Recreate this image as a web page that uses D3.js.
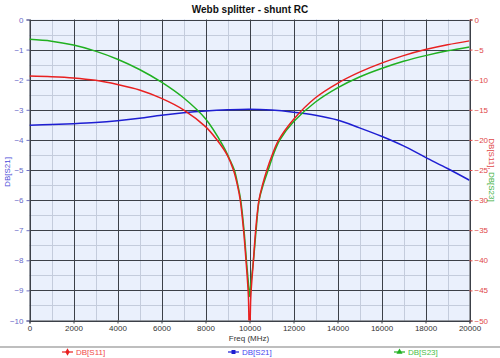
<!DOCTYPE html>
<html><head><meta charset="utf-8">
<script src="https://cdn.jsdelivr.net/npm/d3@7"></script>
<style>body{margin:0;background:#fff}svg{display:block;font-family:"Liberation Sans",Arial,sans-serif}</style>
</head><body><svg id="c" width="500" height="358"></svg>
<script>
const title = "Webb splitter - shunt RC";
const xTicks = [0,2000,4000,6000,8000,10000,12000,14000,16000,18000,20000];
const leftTicks = [0,-1,-2,-3,-4,-5,-6,-7,-8,-9,-10];
const rightTicks = [0,-5,-10,-15,-20,-25,-30,-35,-40,-45,-50];

const s11Freq = [0,1000,2000,3000,4000,5000,6000,7000,8000,8500,9000,9270,9450,9580,9730,9840,9950,10000,10060,10180,10280,10430,10590,10790,11030,11330,12000,13000,14000,15000,16000,17000,18000,19000,20000];
const s11Db   = [-9.4,-9.5,-9.7,-10.1,-10.8,-11.7,-13.1,-15.0,-17.8,-19.9,-22.6,-25,-27.5,-30,-35,-40,-46,-56,-46,-40,-35,-30,-27.5,-25,-22.5,-20,-16.6,-13.0,-10.6,-8.75,-7.25,-6.0,-5.0,-4.2,-3.55];

const s21Freq = [0,1000,2000,3000,4000,5000,6000,7000,8000,9000,10000,11000,12000,13000,14000,15000,16000,17000,18000,19000,20000];
const s21Db   = [-3.51,-3.49,-3.46,-3.42,-3.36,-3.28,-3.18,-3.1,-3.04,-3.0,-2.98,-3.01,-3.08,-3.18,-3.34,-3.6,-3.88,-4.2,-4.58,-4.95,-5.34];

const s23Freq = [0,1000,2000,3000,4000,5000,6000,7000,8000,8800,9070,9310,9470,9600,9750,9860,9955,10000,10060,10180,10300,10440,10620,10850,11080,11380,12000,13000,14000,15000,16000,17000,18000,19000,20000];
const s23Db   = [-3.3,-3.6,-4.25,-5.25,-6.6,-8.3,-10.4,-13.0,-16.5,-21.0,-23,-25,-27.5,-30,-35,-40,-44,-46,-44,-40,-35,-30,-27.5,-25,-22.5,-20,-17.0,-13.7,-11.35,-9.55,-8.15,-6.95,-6.0,-5.2,-4.55];

const svg = d3.select("#c");
const L=29.5, R=469.5, T=19.5, B=320.5;
const x = d3.scaleLinear().domain([0,20000]).range([L,R]);
const yL = d3.scaleLinear().domain([-10,0]).range([B,T]);
const yR = d3.scaleLinear().domain([-50,0]).range([B,T]);

svg.append("rect").attr("x",L).attr("y",T).attr("width",R-L).attr("height",B-T).attr("fill","#eaf0fc");

const g = svg.append("g");
g.selectAll(".vmin").data(d3.range(1000,20000,2000)).enter().append("line")
 .attr("x1",d=>Math.round(x(d))+0.5).attr("x2",d=>Math.round(x(d))+0.5).attr("y1",T).attr("y2",B)
 .attr("stroke","#c4ccdc").attr("stroke-width",1);
g.selectAll(".hmin").data(d3.range(-0.5,-10,-1)).enter().append("line")
 .attr("y1",d=>Math.round(yL(d))+0.5).attr("y2",d=>Math.round(yL(d))+0.5).attr("x1",L).attr("x2",R)
 .attr("stroke","#c4ccdc").attr("stroke-width",1);
g.selectAll(".vmaj").data(xTicks).enter().append("line")
 .attr("x1",d=>Math.round(x(d))+0.5).attr("x2",d=>Math.round(x(d))+0.5).attr("y1",T).attr("y2",B)
 .attr("stroke","#3c4048").attr("stroke-width",1);
g.selectAll(".hmaj").data(leftTicks).enter().append("line")
 .attr("y1",d=>Math.round(yL(d))+0.5).attr("y2",d=>Math.round(yL(d))+0.5).attr("x1",L).attr("x2",R)
 .attr("stroke","#3c4048").attr("stroke-width",1);

const axL = svg.append("g").attr("transform",`translate(${L},0)`)
 .call(d3.axisLeft(yL).tickValues(leftTicks).tickSize(3).tickPadding(3).tickFormat(d3.format("d")));
axL.select(".domain").attr("stroke","#3c4048");
axL.selectAll("line").attr("stroke","#7070c8");
axL.selectAll("text").attr("fill","#6868c8").style("font-size","8px").style("font-family","Liberation Sans, Arial");

const axR = svg.append("g").attr("transform",`translate(${R},0)`)
 .call(d3.axisRight(yR).tickValues(rightTicks).tickSize(3).tickPadding(2).tickFormat(d3.format("d")));
axR.select(".domain").attr("stroke","#3c4048");
axR.selectAll("line").attr("stroke","#e04848");
axR.selectAll("text").attr("fill","#e04848").style("font-size","8px").style("font-family","Liberation Sans, Arial");

const axB = svg.append("g").attr("transform",`translate(0,${B})`)
 .call(d3.axisBottom(x).tickValues(xTicks).tickSize(3).tickPadding(2).tickFormat(d3.format("d")));
axB.select(".domain").attr("stroke","#3c4048");
axB.selectAll("line").attr("stroke","#3c4048");
axB.selectAll("text").attr("fill","#333").style("font-size","8px").style("font-family","Liberation Sans, Arial");

svg.append("clipPath").attr("id","pc").append("rect").attr("x",L).attr("y",T).attr("width",R-L).attr("height",B-T);
const lines = svg.append("g").attr("clip-path","url(#pc)");
const mk = (fr,vals,ys)=> d3.line().curve(d3.curveCatmullRom.alpha(0.5)).x((d,i)=>x(fr[i])).y(d=>ys(d))(vals);
lines.append("path").attr("d",mk(s21Freq,s21Db,yL)).attr("fill","none").attr("stroke","#1e1ed2").attr("stroke-width",1.5);
lines.append("path").attr("d",mk(s23Freq,s23Db,yR)).attr("fill","none").attr("stroke","#20b020").attr("stroke-width",1.5);
lines.append("path").attr("d",mk(s11Freq,s11Db,yR)).attr("fill","none").attr("stroke","#e82020").attr("stroke-width",1.5);

svg.append("text").attr("x",250).attr("y",12.5).attr("text-anchor","middle").attr("font-size","10px").attr("font-weight","bold").attr("fill","#111").text(title);
svg.append("text").attr("x",249).attr("y",341).attr("text-anchor","middle").attr("font-size","8px").attr("fill","#333").text("Freq (MHz)");
svg.append("text").attr("transform","translate(10,172) rotate(-90)").attr("text-anchor","middle").attr("font-size","8px").attr("fill","#4a4ad8").text("DB[S21]");
const rl = svg.append("text").attr("transform","translate(489,170) rotate(90)").attr("text-anchor","middle").attr("font-size","8px");
rl.append("tspan").attr("fill","#e04848").text("DB[S11], ");
rl.append("tspan").attr("fill","#40b040").text("DB[S23]");

svg.append("line").attr("x1",0).attr("x2",500).attr("y1",347).attr("y2",347).attr("stroke","#a8a8a8").attr("stroke-width",1.5);
const legend = [
 {name:"DB[S11]", color:"#e82020", text:"#f04848", lx:62, shape:d3.symbolDiamond},
 {name:"DB[S21]", color:"#1e1ed2", text:"#4848f0", lx:228, shape:d3.symbolSquare},
 {name:"DB[S23]", color:"#20b020", text:"#48c048", lx:394, shape:d3.symbolTriangle}
];
const lg = svg.append("g").selectAll("g").data(legend).enter().append("g").attr("transform",d=>`translate(${d.lx},352)`);
lg.append("line").attr("x1",0).attr("x2",11).attr("y1",0).attr("y2",0).attr("stroke",d=>d.color).attr("stroke-width",1.2);
lg.append("path").attr("d",d=>d3.symbol().type(d.shape).size(16)()).attr("transform","translate(5.5,0)").attr("fill",d=>d.color);
lg.append("text").attr("x",14).attr("y",3).attr("font-size","8px").attr("fill",d=>d.text).text(d=>d.name);
</script></body></html>
